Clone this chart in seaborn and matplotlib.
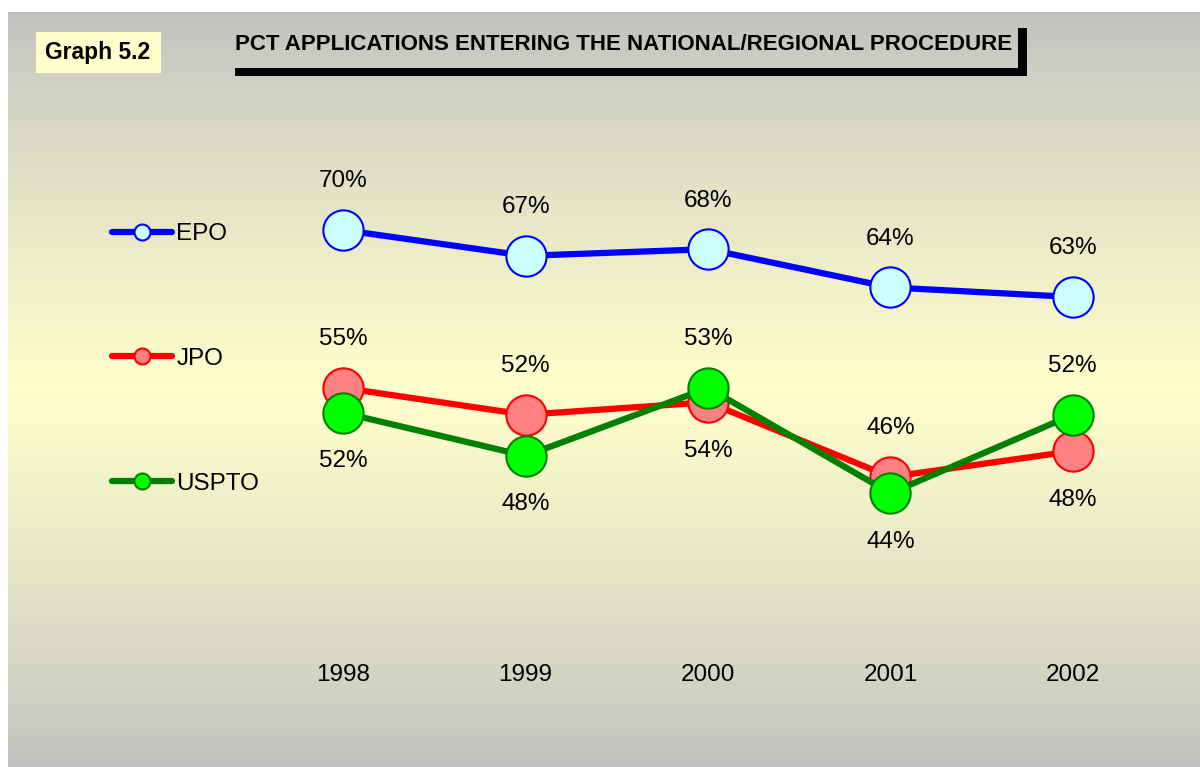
import numpy as np
import pandas as pd
import matplotlib
matplotlib.use("Agg")
import matplotlib.pyplot as plt
from matplotlib.lines import Line2D
from matplotlib.patches import Rectangle
import seaborn as sns

# ---- data ----
years = ["1998", "1999", "2000", "2001", "2002"]
epo = [70.0, 67.3, 68.0, 64.0, 63.0]
jpo = [53.5, 50.7, 52.0, 44.2, 46.9]
uspto = [50.9, 46.4, 53.5, 42.5, 50.7]
epo_labels = ["70%", "67%", "68%", "64%", "63%"]
jpo_labels = ["55%", "52%", "54%", "46%", "48%"]
uspto_labels = ["52%", "48%", "53%", "44%", "52%"]
series_names = ["EPO", "JPO", "USPTO"]
title = "PCT APPLICATIONS ENTERING THE NATIONAL/REGIONAL PROCEDURE"
graph_tag = "Graph 5.2"

sns.set_theme(style="white")
plt.rcParams["font.family"] = ["Liberation Sans", "DejaVu Sans"]
plt.rcParams["text.color"] = "black"
plt.rcParams["xtick.color"] = "black"

W, H = 1200, 767
fig = plt.figure(figsize=(W / 100, H / 100), dpi=100)
fig.patch.set_facecolor("white")

def fx(px):
    return px / W

def fy(py):
    return 1 - py / H

# gradient background
bg = fig.add_axes([fx(8), 0, 1 - fx(8), 1 - 12 / H], zorder=-10)
n = 400
t = np.linspace(0, 1, n)
gray = np.array([192, 192, 192]) / 255
yellow = np.array([255, 255, 204]) / 255
mid = 0.5
w = np.where(t < mid, t / mid, (1 - t) / (1 - mid))
w = np.clip(w, 0, 1) ** 0.8
cols = gray[None, :] * (1 - w[:, None]) + yellow[None, :] * w[:, None]
img = np.repeat(cols[:, None, :], 2, axis=1)
bg.imshow(img, aspect="auto", extent=[0, 1, 0, 1], origin="upper")
bg.set_axis_off()

# main axes
top_px, bot_px = 130, 650
scale = 9.571
ymax = 70 + (230 - top_px) / scale
ymin = 70 - (bot_px - 230) / scale
ax = fig.add_axes([fx(252), fy(bot_px), fx(1164 - 252), (bot_px - top_px) / H])
ax.set_facecolor("none")

df = pd.DataFrame({"year": years, "EPO": epo, "JPO": jpo, "USPTO": uspto})
df["x"] = np.arange(len(years))

styles = {
    "EPO": dict(color="#0000FF", mfc="#CCFFFF", mec="#0000FF"),
    "JPO": dict(color="#FF0000", mfc="#FF8080", mec="#FF0000"),
    "USPTO": dict(color="#008000", mfc="#00FF00", mec="#008000"),
}
labels = {"EPO": epo_labels, "JPO": jpo_labels, "USPTO": uspto_labels}
label_side = {
    "EPO": [1, 1, 1, 1, 1],
    "JPO": [1, 1, -1, 1, -1],
    "USPTO": [-1, -1, 1, -1, 1],
}

for i, name in enumerate(series_names):
    st = styles[name]
    sns.lineplot(data=df, x="x", y=name, ax=ax, color=st["color"], linewidth=4.5,
                 marker="o", markersize=29, markerfacecolor=st["mfc"],
                 markeredgecolor=st["mec"], markeredgewidth=1.5, zorder=3 + i)
    for xi, (v, lab, side) in enumerate(zip(df[name], labels[name], label_side[name])):
        ax.annotate(lab, (xi, v), xytext=(0, 35 * side), textcoords="offset points",
                    ha="center", va="center", fontsize=17.5, color="black", zorder=10)

ax.set_xlim(-0.5, len(years) - 0.5)
ax.set_ylim(ymin, ymax)
ax.set_xticks(df["x"])
ax.set_xticklabels(years, fontsize=17.5, color="black")
ax.tick_params(axis="x", length=0, pad=10)
ax.set_yticks([])
ax.set_xlabel("")
ax.set_ylabel("")
for s in ax.spines.values():
    s.set_visible(False)

# legend
handles = [Line2D([0], [0], color=styles[nm]["color"], lw=4.5, marker="o", markersize=11.5,
                  markerfacecolor=styles[nm]["mfc"], markeredgecolor=styles[nm]["mec"],
                  markeredgewidth=1.5) for nm in series_names]
leg = fig.legend(handles, series_names, loc="upper left", bbox_to_anchor=(fx(112), fy(223)),
                 frameon=False, fontsize=17.5, labelspacing=4.23, handlelength=2.45,
                 handletextpad=0.2, borderpad=0, borderaxespad=0)
for txt in leg.get_texts():
    txt.set_color("black")

# title & decorations
fig.text(fx(235), fy(45), title, fontsize=16, fontweight="bold", ha="left", va="center",
         color="black")
fig.add_artist(Rectangle((fx(235), fy(76)), fx(1027 - 235), 8 / H, transform=fig.transFigure,
                         facecolor="black", edgecolor="none"))
fig.add_artist(Rectangle((fx(1018), fy(76)), fx(9), 48 / H, transform=fig.transFigure,
                         facecolor="black", edgecolor="none"))
fig.add_artist(Rectangle((fx(36), fy(73)), fx(161 - 36), 41 / H, transform=fig.transFigure,
                         facecolor="#FFFFCC", edgecolor="none"))
fig.text(fx(98), fy(52), graph_tag, fontsize=16.5, fontweight="bold", ha="center", va="center",
         color="black")

fig.savefig("out.png", dpi=100)
